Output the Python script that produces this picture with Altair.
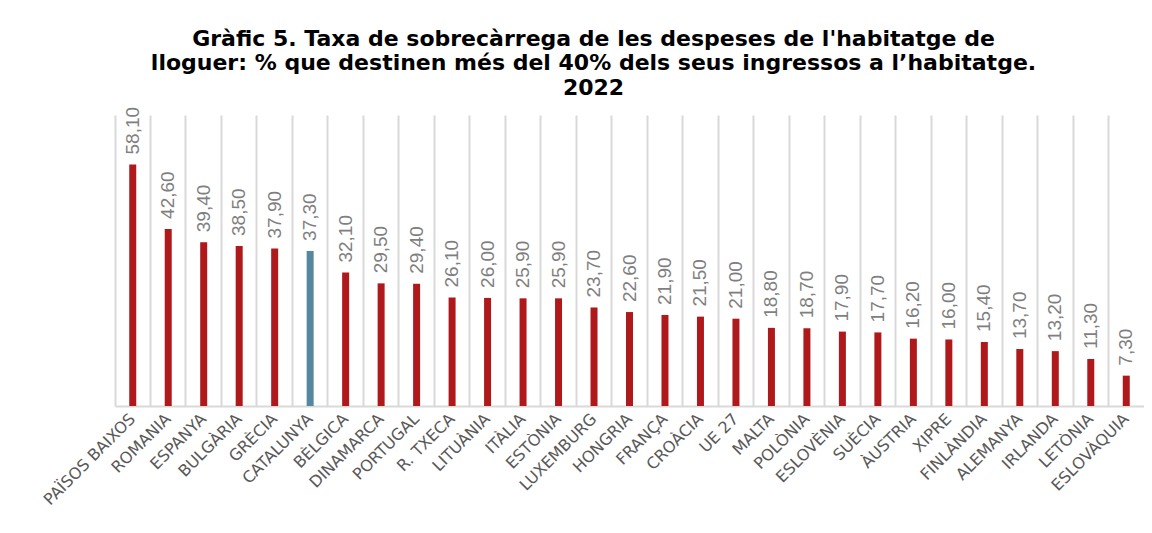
import altair as alt
import pandas as pd

categories = ["PAÏSOS BAIXOS", "ROMANIA", "ESPANYA", "BULGÀRIA", "GRÈCIA", "CATALUNYA",
              "BÈLGICA", "DINAMARCA", "PORTUGAL", "R. TXECA", "LITUÀNIA", "ITÀLIA",
              "ESTÒNIA", "LUXEMBURG", "HONGRIA", "FRANÇA", "CROÀCIA", "UE 27", "MALTA",
              "POLÒNIA", "ESLOVÈNIA", "SUÈCIA", "ÀUSTRIA", "XIPRE", "FINLÀNDIA",
              "ALEMANYA", "IRLANDA", "LETÒNIA", "ESLOVÀQUIA"]
values = [58.1, 42.6, 39.4, 38.5, 37.9, 37.3, 32.1, 29.5, 29.4, 26.1, 26.0, 25.9,
          25.9, 23.7, 22.6, 21.9, 21.5, 21.0, 18.8, 18.7, 17.9, 17.7, 16.2, 16.0,
          15.4, 13.7, 13.2, 11.3, 7.3]
highlight = "CATALUNYA"

title_lines = ["Gràfic 5. Taxa de sobrecàrrega de les despeses de l'habitatge de",
               "lloguer: % que destinen més del 40% dels seus ingressos a l’habitatge.",
               "2022"]

df = pd.DataFrame({"cat": categories, "val": values})
df["label"] = [f"{v:.2f}".replace(".", ",") for v in values]
df["grp"] = ["hl" if c == highlight else "base" for c in categories]

x = alt.X("cat:N", sort=categories, title=None,
          scale=alt.Scale(paddingInner=0, paddingOuter=0),
          axis=alt.Axis(bandPosition=0, grid=True, gridColor="#d9d9d9", gridWidth=2,
                        domainColor="#d9d9d9", domainWidth=2, ticks=False,
                        labelAngle=315, labelAlign="right", labelBaseline="middle",
                        labelPadding=10, labelFont="DejaVu Sans", labelFontSize=16,
                        labelColor="#595959", labelOverlap=False, labelLimit=300))
y = alt.Y("val:Q", scale=alt.Scale(domain=[0, 70], nice=False), axis=None)

bars = alt.Chart(df).mark_bar(size=7).encode(
    x=x, y=y,
    color=alt.Color("grp:N", scale=alt.Scale(domain=["base", "hl"],
                                             range=["#B0191B", "#5687A1"]), legend=None),
)

labels = alt.Chart(df).mark_text(angle=270, align="left", baseline="middle", dx=10,
                                 font="Liberation Sans", fontSize=19,
                                 color="#7f7f7f").encode(
    x=x, y=y, text="label:N"
)

chart = alt.layer(bars, labels).properties(
    width=1029, height=291,
    autosize=alt.AutoSizeParams(type="none"),
    padding={"left": 107, "top": 107, "right": 0, "bottom": 119},
    title=alt.TitleParams(text=title_lines, fontSize=22, font="DejaVu Sans",
                          fontWeight="bold", color="#000000", anchor="middle",
                          dx=-36, offset=7, lineHeight=24.5),
).configure_view(stroke=None)

chart.save("out.html", embed_options={"renderer": "svg", "actions": False})
